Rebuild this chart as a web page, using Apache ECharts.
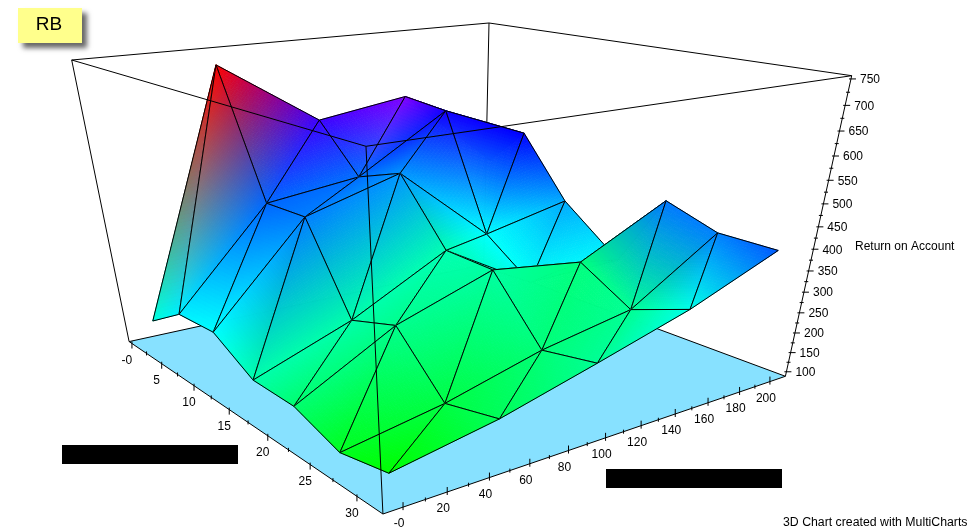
<!DOCTYPE html><html><head><meta charset="utf-8"><style>html,body{margin:0;background:#fff}</style></head><body>
<div id="c" style="width:970px;height:532px"></div>
<script src="https://cdn.jsdelivr.net/npm/echarts@6/dist/echarts.min.js"></script>
<script>
// Input parameter 1 (front-left axis)
const paramA=[0,5,10,15,20,25,30];
// Input parameter 2 (front-right axis), one row per paramA value
const paramB=[
[3.8,54.6,105.3,155.7,210.6],
[3.8,54.7,104.9,156.0,205.7],
[4.2,55.0,105.7,156.2,206.5],
[4.1,55.1,106.6,157.0,214.9],
[4.5,55.8,106.7,157.6,208.5],
[4.9,56.4,107.7,158.7,208.5],
[5.7,58.1,108.3,159.2,210.0]];
// Return on Account, one row per paramA value
const returnOnAccount=[
[136,721,570,601,402],
[204,433,460,589,505],
[209,436,499,309,356],
[145,232,351,222,226],
[141,269,346,316,423],
[95,138,201,242,381],
[117,162,224,290,377]];
// Colour value at each vertex, as a hue in degrees
const vertexHue=[
[172,360,254,270,235],
[184,216,214,245,240],
[180,210,205,180,200],
[160,160,162,178,180],
[146,153,158,150,212],
[127,136,148,155,210],
[120,141,155,175,219]];
const aTicks=[0,5,10,15,20,25,30];
const aTickLabels=['-0','5','10','15','20','25','30'];
const bTicks=[0,20,40,60,80,100,120,140,160,180,200];
const bTickLabels=['-0','20','40','60','80','100','120','140','160','180','200'];
const zTicks=[100,150,200,250,300,350,400,450,500,550,600,650,700,750];
const zTickLabels=zTicks.map(String);
const zTitle='Return on Account';
const footer='3D Chart created with MultiCharts';
const chartTitle='RB';
const aRange=[-0.5,32.57], bRange=[-8.8,210.5], zRange=[88,756];
// camera of the 3D box, unit cube -> picture plane
const cam=[[181.42,527.04,-80.64,152.34],[41.18,-31.84,-343.08,403.08],[-0.30841,0.22441,-0.18,1.18]];
const floorFrontSag=3.75;

function project(a,b,z){
  const u=(a-aRange[0])/(aRange[1]-aRange[0]),v=(b-bRange[0])/(bRange[1]-bRange[0]),w=(z-zRange[0])/(zRange[1]-zRange[0]);
  const q=cam.map(r=>r[0]*u+r[1]*v+r[2]*w+r[3]);
  q[1]+=floorFrontSag*u*(1-v)*(1-w);
  return [q[0]/q[2],q[1]/q[2]];
}
function hueRgb(h){
  h=((h%360)+360)%360;
  const f=(n)=>{const k=(n+h/60)%6;return 255*(1-Math.max(0,Math.min(k,4-k,1)));};
  return [f(5),f(3),f(1)];
}
const aL=aRange[0],aH=aRange[1],bL=bRange[0],bH=bRange[1],zL=zRange[0],zH=zRange[1];
const boxLeftTop=[aL,bL,zH],boxFrontTop=[aH,bL,zH],boxRightTop=[aH,bH,zH],boxBackTop=[aL,bH,zH];
const lineStyle={stroke:'#000',lineWidth:1};
function seg(api,p,q,extra){
  const P=api.coord(project(...p)),Q=api.coord(project(...q));
  return {type:'line',shape:{x1:P[0],y1:P[1],x2:Q[0],y2:Q[1]},style:Object.assign({},lineStyle,extra||{}),silent:true};
}
// painter's order: back corner first
const triangles=[];
for(let i=0;i<paramA.length-1;i++){
  for(let j=paramB[0].length-2;j>=0;j--){
    triangles.push([[i,j],[i+1,j],[i,j+1]]);
    triangles.push([[i+1,j],[i,j+1],[i+1,j+1]]);
  }
}
function renderTriangle(params,api){
  const t=triangles[params.dataIndex];
  const pts=t.map(([i,j])=>api.coord(project(paramA[i],paramB[i][j],returnOnAccount[i][j])));
  const cols=t.map(([i,j])=>hueRgb(vertexHue[i][j]));
  const len=(p,q)=>Math.hypot(p[0]-q[0],p[1]-q[1]);
  const n=Math.max(2,Math.ceil(Math.max(len(pts[0],pts[1]),len(pts[1],pts[2]),len(pts[0],pts[2]))/4));
  const children=[];
  const at=(a,b)=>{const c=n-a-b;return [ (a*pts[0][0]+b*pts[1][0]+c*pts[2][0])/n,(a*pts[0][1]+b*pts[1][1]+c*pts[2][1])/n ];};
  const push=(A,B,C)=>{
    const wa=(A[0]+B[0]+C[0])/(3*n),wb=(A[1]+B[1]+C[1])/(3*n),wc=1-wa-wb;
    const col=[0,1,2].map(k=>Math.round(wa*cols[0][k]+wb*cols[1][k]+wc*cols[2][k]));
    const s='rgb('+col.join(',')+')';
    children.push({type:'polygon',shape:{points:[at(A[0],A[1]),at(B[0],B[1]),at(C[0],C[1])]},style:{fill:s,stroke:s,lineWidth:0.8},silent:true});
  };
  for(let a=0;a<n;a++){for(let b=0;b<n-a;b++){
    push([a,b],[a+1,b],[a,b+1]);
    if(a+b<n-1) push([a+1,b],[a+1,b+1],[a,b+1]);
  }}
  children.push({type:'polygon',shape:{points:pts},style:{fill:'none',stroke:'#000',lineWidth:1},silent:true});
  return {type:'group',children};
}
function renderFloor(params,api){
  const pts=[[aL,bL,zL],[aH,bL,zL],[aH,bH,zL],[aL,bH,zL]].map(p=>api.coord(project(...p)));
  return {type:'polygon',shape:{points:pts},style:{fill:'#87E1FF',stroke:'#000',lineWidth:1},silent:true};
}
function renderBackBox(params,api){
  return {type:'group',children:[
    seg(api,boxLeftTop,boxBackTop),seg(api,boxBackTop,boxRightTop),
    seg(api,[aL,bH,zL],boxBackTop),
    seg(api,[aL,bL,zL],boxLeftTop),seg(api,[aH,bH,zL],boxRightTop)]};
}
function renderFrontBox(params,api){
  return {type:'group',children:[
    seg(api,boxLeftTop,boxFrontTop),seg(api,boxRightTop,boxFrontTop),seg(api,[aH,bL,zL],boxFrontTop)]};
}
const font='12px "Liberation Sans"';
function label(p,dx,dy,text,align){
  return {type:'text',style:{text,x:p[0]+dx,y:p[1]+dy,fill:'#000',font,align:align||'center',verticalAlign:'middle'},silent:true};
}
function tick(p,x1,y1,x2,y2){
  return {type:'line',shape:{x1:p[0]+x1,y1:p[1]+y1,x2:p[0]+x2,y2:p[1]+y2},style:lineStyle,silent:true};
}
function renderAxes(params,api){
  const c=[];
  for(let k=0;k<aTicks.length;k++){
    const p=api.coord(project(aTicks[k],bL,zL));
    c.push(tick(p,0,-2,0,5),label(p,-5,17,aTickLabels[k]));
    if(k<aTicks.length-1){c.push(tick(api.coord(project((aTicks[k]+aTicks[k+1])/2,bL,zL)),0,-2,0,2));}
  }
  for(let k=0;k<bTicks.length;k++){
    const p=api.coord(project(aH,bTicks[k],zL));
    c.push(tick(p,0,-5,0,3),label(p,-4,17,bTickLabels[k]));
    if(k<bTicks.length-1){c.push(tick(api.coord(project(aH,(bTicks[k]+bTicks[k+1])/2,zL)),0,-2,0,2));}
  }
  for(let k=0;k<zTicks.length;k++){
    const p=api.coord(project(aH,bH,zTicks[k]));
    c.push(tick(p,-2,0,5,0),label(p,9,1,zTickLabels[k],'left'));
    if(k<zTicks.length-1){c.push(tick(api.coord(project(aH,bH,(zTicks[k]+zTicks[k+1])/2)),-2,0,2,0));}
  }
  return {type:'group',children:c};
}
const one=[[0,0]];
const base={type:'custom',coordinateSystem:'cartesian2d',clip:false,silent:true,animation:false,progressive:0};
const chart=echarts.init(document.getElementById('c'),null,{renderer:'canvas'});
chart.setOption({
  animation:false,backgroundColor:'#fff',
  grid:{left:0,right:0,top:0,bottom:0},
  xAxis:{type:'value',min:0,max:970,show:false},
  yAxis:{type:'value',min:0,max:532,inverse:true,show:false},
  series:[
    Object.assign({},base,{name:'floor',data:one,renderItem:renderFloor,z:1}),
    Object.assign({},base,{name:'back',data:one,renderItem:renderBackBox,z:2}),
    Object.assign({},base,{name:'surface',data:triangles.map((t,i)=>[i,0]),renderItem:renderTriangle,z:3}),
    Object.assign({},base,{name:'front',data:one,renderItem:renderFrontBox,z:4}),
    Object.assign({},base,{name:'axes',data:one,renderItem:renderAxes,z:5})
  ],
  graphic:[
    {type:'rect',shape:{x:18,y:8,width:64,height:35},style:{fill:'#FFFF8C',shadowBlur:5,shadowOffsetX:5,shadowOffsetY:5,shadowColor:'rgba(0,0,0,0.6)'},z:10},
    {type:'text',style:{text:chartTitle,x:49,y:25,font:'19px "Liberation Sans"',fill:'#000',align:'center',verticalAlign:'middle'},z:11},
    {type:'rect',shape:{x:62,y:445,width:176,height:19},style:{fill:'#000'},z:10},
    {type:'rect',shape:{x:606,y:469,width:176,height:19},style:{fill:'#000'},z:10},
    {type:'text',style:{text:zTitle,x:855,y:247,font,fill:'#000',align:'left',verticalAlign:'middle'},z:10},
    {type:'text',style:{text:footer,x:783,y:523,font:'12.3px "Liberation Sans"',fill:'#000',align:'left',verticalAlign:'middle'},z:10}
  ]
});
</script></body></html>
